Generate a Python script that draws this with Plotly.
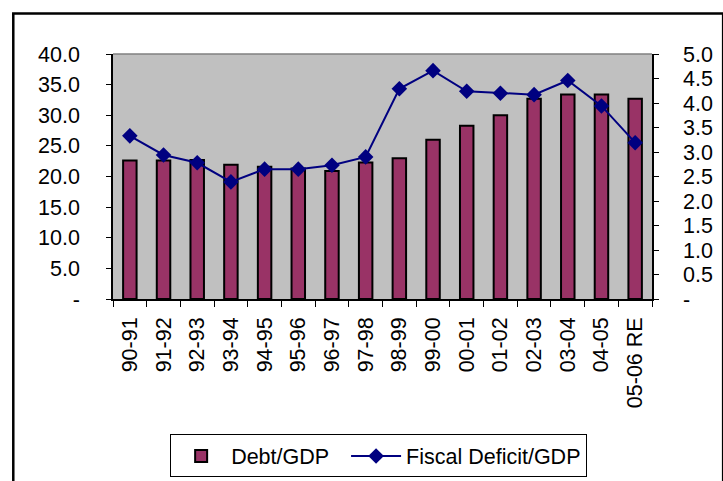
import plotly.graph_objects as go

categories = ["90-91", "91-92", "92-93", "93-94", "94-95", "95-96", "96-97", "97-98",
              "98-99", "99-00", "00-01", "01-02", "02-03", "03-04", "04-05", "05-06 RE"]
debt_gdp = [22.6, 22.6, 22.7, 21.9, 21.6, 21.3, 20.9, 22.3,
            23.0, 26.0, 28.3, 30.0, 32.7, 33.4, 33.4, 32.7]
fiscal_deficit_gdp = [3.33, 2.94, 2.78, 2.39, 2.65, 2.65, 2.73, 2.90,
                      4.29, 4.66, 4.24, 4.20, 4.17, 4.46, 3.94, 3.19]
left_ticks = [0, 5, 10, 15, 20, 25, 30, 35, 40]
left_ticktext = ["-", "5.0", "10.0", "15.0", "20.0", "25.0", "30.0", "35.0", "40.0"]
right_ticks = [0, 0.5, 1, 1.5, 2, 2.5, 3, 3.5, 4, 4.5, 5]
right_ticktext = ["-", "0.5", "1.0", "1.5", "2.0", "2.5", "3.0", "3.5", "4.0", "4.5", "5.0"]

FONT = "Liberation Sans, Arial, sans-serif"

fig = go.Figure()
fig.add_trace(go.Bar(
    x=categories, y=debt_gdp, name="Debt/GDP\u00a0\u00a0",
    marker=dict(color="#993366", line=dict(color="black", width=2)),
    width=0.4,
))
fig.add_trace(go.Scatter(
    x=categories, y=fiscal_deficit_gdp, name="Fiscal Deficit/GDP", yaxis="y2",
    mode="lines+markers",
    line=dict(color="#000080", width=2),
    marker=dict(symbol="diamond", size=12, color="#000080"),
))

fig.update_layout(
    width=723, height=481,
    margin=dict(l=113, r=71, t=54, b=182, autoexpand=False),
    paper_bgcolor="white",
    plot_bgcolor="#C0C0C0",
    font=dict(family=FONT, size=21.5, color="black"),
    showlegend=True,
    legend=dict(
        orientation="h", x=0.106, y=-0.553, xanchor="left", yanchor="top",
        bordercolor="black", borderwidth=1, bgcolor="white",
        font=dict(size=21.5), tracegroupgap=0, itemwidth=50,
    ),
    xaxis=dict(
        type="category", tickangle=-90, showgrid=False, automargin=False,
        showline=True, linecolor="black", linewidth=1.5,
        ticks="outside", ticklen=6, tickcolor="black", tickson="boundaries",
        tickfont=dict(size=21.5), range=[-0.5, 15.5], ticklabelstandoff=8,
    ),
    yaxis=dict(
        range=[0, 40], tickvals=left_ticks, ticktext=left_ticktext,
        showgrid=False, zeroline=False, automargin=False,
        showline=True, linecolor="black", linewidth=1.5,
        ticks="outside", ticklen=5, tickcolor="black",
        ticklabelstandoff=22,
    ),
    yaxis2=dict(
        range=[0, 5], tickvals=right_ticks, ticktext=right_ticktext,
        overlaying="y", side="right", showgrid=False, zeroline=False, automargin=False,
        showline=True, linecolor="black", linewidth=1.5,
        ticks="outside", ticklen=5, tickcolor="black",
        ticklabelstandoff=20,
    ),
    shapes=[
        dict(type="line", xref="paper", yref="paper", x0=0, x1=1, y0=1, y1=1,
             line=dict(color="#808080", width=1.5)),
        dict(type="rect", xref="paper", yref="paper",
             x0=-0.185, x1=1.132, y0=-0.9, y1=1.165,
             line=dict(color="black", width=2.5), fillcolor="rgba(0,0,0,0)"),
    ],
)

fig.write_html("out.html", config={"displayModeBar": False},
               post_script="document.body.style.margin='0';")
